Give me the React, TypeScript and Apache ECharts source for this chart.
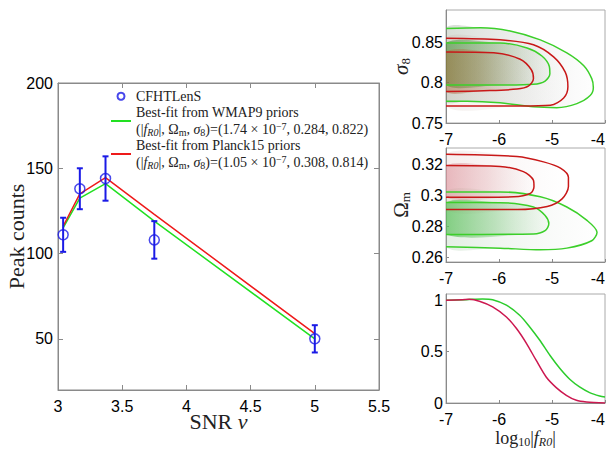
import React, { useEffect, useRef } from 'react';
import * as echarts from 'echarts';

// ---------- main panel data ----------
const snr = [3.04, 3.17, 3.37, 3.75, 5.0];
const peakCounts = [111, 138, 144, 108, 50];
const errLow = [101, 126, 131, 97, 42];
const errHigh = [121, 150, 157, 119, 58];
const wmap9Fit = [115, 132.5, 141, 119, 50];
const planck15Fit = [116, 135, 144.5, 123, 53];

const snrTicks = [3, 3.5, 4, 4.5, 5, 5.5];
const peakTicks = [50, 100, 150, 200];
const logfTicks = [-7, -6, -5, -4];
const s8Ticks = [0.75, 0.8, 0.85];
const omTicks = [0.26, 0.28, 0.3, 0.32];
const probTicks = [0, 0.5, 1];

// ---------- sigma8 vs log10|fR0| contours ----------
const s8GreenOuter = [[-7, 0.867], [-6.35, 0.868], [-5.79, 0.864], [-5.22, 0.853], [-4.72, 0.837], [-4.4, 0.821], [-4.25, 0.805], [-4.22, 0.794], [-4.28, 0.784], [-4.53, 0.774], [-4.91, 0.769], [-5.35, 0.77], [-5.98, 0.775], [-6.6, 0.777], [-7, 0.777]];
const s8GreenInner = [[-7, 0.849], [-5.98, 0.849], [-5.47, 0.843], [-5.19, 0.833], [-5.05, 0.82], [-5.04, 0.811], [-5.13, 0.802], [-5.35, 0.798], [-5.98, 0.797], [-7, 0.797]];
const s8RedOuter = [[-7, 0.855], [-5.98, 0.853], [-5.35, 0.847], [-4.97, 0.832], [-4.75, 0.813], [-4.7, 0.795], [-4.78, 0.781], [-5.03, 0.772], [-5.6, 0.771], [-7, 0.771]];
const s8RedInner = [[-7, 0.838], [-6.1, 0.837], [-5.6, 0.829], [-5.39, 0.816], [-5.35, 0.805], [-5.44, 0.796], [-5.66, 0.792], [-6.29, 0.79], [-7, 0.789]];

// ---------- Omega_m vs log10|fR0| contours ----------
const omRedOuter = [[-7, 0.327], [-5.66, 0.3255], [-5.16, 0.322], [-4.84, 0.318], [-4.69, 0.312], [-4.69, 0.306], [-4.81, 0.298], [-5.09, 0.293], [-5.66, 0.291], [-7, 0.291]];
const omRedInner = [[-7, 0.3196], [-5.98, 0.319], [-5.54, 0.3157], [-5.35, 0.31], [-5.34, 0.3058], [-5.41, 0.3015], [-5.72, 0.2993], [-7, 0.299]];
const omGreenOuter = [[-7, 0.3025], [-5.98, 0.3025], [-5.22, 0.2993], [-4.72, 0.2927], [-4.34, 0.284], [-4.15, 0.2763], [-4.25, 0.2708], [-4.72, 0.266], [-5.22, 0.2649], [-5.98, 0.266], [-7, 0.2669]];
const omGreenInner = [[-7, 0.2956], [-5.98, 0.2955], [-5.35, 0.2927], [-5.13, 0.2872], [-5.06, 0.2818], [-5.13, 0.2774], [-5.35, 0.2752], [-7, 0.2748]];

// ---------- marginal probability of log10|fR0| ----------
const probGreen = [[-7, 1.0], [-6.62, 1.005], [-6.31, 1.012], [-6.12, 1.005], [-5.86, 0.951], [-5.61, 0.854], [-5.42, 0.74], [-5.23, 0.61], [-5.04, 0.464], [-4.85, 0.335], [-4.66, 0.228], [-4.48, 0.156], [-4.29, 0.101], [-4.1, 0.068], [-4.0, 0.058]];
const probRed = [[-7, 1.0], [-6.69, 1.005], [-6.56, 1.008], [-6.37, 0.99], [-6.12, 0.935], [-5.86, 0.837], [-5.67, 0.724], [-5.48, 0.578], [-5.3, 0.416], [-5.11, 0.253], [-4.92, 0.15], [-4.73, 0.075], [-4.54, 0.026], [-4.35, 0.01], [-4.0, 0.0]];

const GRAY = '#8a8a8a';
const SANS = 'Liberation Sans';
const SERIF = 'Liberation Serif';

const mathRich = {
  it: { fontFamily: SERIF, fontSize: 14, fontStyle: 'italic', lineHeight: 16.5, color: '#222' },
  sub: { fontFamily: SERIF, fontSize: 10, fontStyle: 'italic', lineHeight: 10, verticalAlign: 'bottom', color: '#222' },
  subr: { fontFamily: SERIF, fontSize: 10, lineHeight: 10, verticalAlign: 'bottom', color: '#222' },
  sup: { fontFamily: SERIF, fontSize: 10, lineHeight: 10, verticalAlign: 'top', color: '#222' },
};

const legendText: Record<string, string> = {
  CFHTLenS: 'CFHTLenS',
  WMAP9: 'Best-fit from WMAP9 priors\n(|{it|f}{sub|R0}|, Ω{subr|m}, {it|σ}{subr|8})=(1.74 × 10{sup|−7}, 0.284, 0.822)',
  Planck15: 'Best-fit from Planck15 priors\n(|{it|f}{sub|R0}|, Ω{subr|m}, {it|σ}{subr|8})=(1.05 × 10{sup|−7}, 0.308, 0.814)',
};

const grad = (stops: [number, string][]) =>
  new echarts.graphic.LinearGradient(0, 0, 1, 0, stops.map(([offset, color]) => ({ offset, color })));

// grid g (1..3) uses xAxis/yAxis index g + 1
function fillSeries(pts: number[][], g: number, stops: [number, string][]) {
  const fill = grad(stops);
  return {
    type: 'custom',
    xAxisIndex: g + 1,
    yAxisIndex: g + 1,
    silent: true,
    clip: true,
    z: 1,
    data: pts,
    encode: { x: 0, y: 1 },
    renderItem: (params: any, api: any) => {
      if (params.dataIndex !== 0) return null;
      return {
        type: 'polygon',
        shape: { points: pts.map((p) => api.coord(p)), smooth: 0.3 },
        style: { fill, stroke: 'none' },
      };
    },
  };
}

function contourSeries(pts: number[][], g: number, color: string) {
  return {
    type: 'line',
    xAxisIndex: g + 1,
    yAxisIndex: g + 1,
    data: pts,
    smooth: 0.3,
    symbol: 'none',
    silent: true,
    z: 3,
    lineStyle: { color, width: 1.5 },
    itemStyle: { color },
  };
}

const tickInside = (len: number, custom?: number[]) => ({
  show: true,
  inside: true,
  length: len,
  lineStyle: { color: GRAY },
  ...(custom ? { customValues: custom } : {}),
});

const smallX = (grid: number, withName = false) => ({
  type: 'value',
  gridIndex: grid,
  min: -7,
  max: -4,
  axisLine: { lineStyle: { color: GRAY } },
  axisTick: tickInside(3, logfTicks),
  axisLabel: { color: '#000', fontSize: 16, fontFamily: SANS, margin: 8, customValues: logfTicks, alignMaxLabel: 'right' },
  splitLine: { show: false },
  ...(withName
    ? {
        name: 'log{s|10}|{i|f}{t|R0}|',
        nameLocation: 'middle',
        nameGap: 25,
        nameMoveOverlap: false,
        nameTextStyle: {
          fontFamily: SERIF,
          fontSize: 18,
          color: '#222',
          lineHeight: 20,
          rich: {
            s: { fontFamily: SERIF, fontSize: 12, lineHeight: 12, verticalAlign: 'bottom', color: '#222' },
            i: { fontFamily: SERIF, fontSize: 18, fontStyle: 'italic', lineHeight: 20, color: '#222' },
            t: { fontFamily: SERIF, fontSize: 12, fontStyle: 'italic', lineHeight: 12, verticalAlign: 'bottom', color: '#222' },
          },
        },
      }
    : {}),
});

const smallY = (grid: number, min: number, max: number, ticks: number[], name?: string) => ({
  type: 'value',
  gridIndex: grid,
  min,
  max,
  axisLine: { show: true, lineStyle: { color: GRAY } },
  axisTick: tickInside(3, ticks),
  axisLabel: { color: '#000', fontSize: 16, fontFamily: SANS, margin: 3, customValues: ticks },
  splitLine: { show: false },
  ...(name
    ? {
        name,
        nameLocation: 'middle',
        nameGap: 34,
        nameMoveOverlap: false,
        nameTextStyle: {
          fontFamily: SERIF,
          fontSize: 21,
          color: '#222',
          lineHeight: 22,
          rich: {
            i: { fontFamily: SERIF, fontSize: 21, fontStyle: 'italic', lineHeight: 22, color: '#222' },
            s: { fontFamily: SERIF, fontSize: 13, lineHeight: 12, verticalAlign: 'bottom', color: '#222' },
          },
        },
      }
    : {}),
});

const gridBase = { show: true, borderWidth: 1, outerBoundsMode: 'none', containLabel: false };

const option: any = {
  animation: false,
  backgroundColor: '#fff',
  legend: {
    orient: 'vertical',
    left: 110,
    top: 88,
    padding: 0,
    itemGap: 0,
    itemWidth: 20,
    itemHeight: 7,
    data: [
      { name: 'CFHTLenS' },
      { name: 'WMAP9', itemStyle: { opacity: 0 } },
      { name: 'Planck15', itemStyle: { opacity: 0 } },
    ],
    formatter: (name: string) => legendText[name],
    textStyle: { fontFamily: SERIF, fontSize: 14, lineHeight: 16.5, color: '#222', rich: mathRich },
  },
  grid: [
    { ...gridBase, left: 58, top: 83, width: 321, height: 307, borderColor: GRAY },
    { ...gridBase, left: 446, top: 10, width: 159, height: 113, borderColor: '#aaa' },
    { ...gridBase, left: 446, top: 148, width: 159, height: 114, borderColor: '#aaa' },
    { ...gridBase, left: 446, top: 294, width: 159, height: 109, borderColor: '#aaa' },
  ],
  xAxis: [
    {
      type: 'value',
      gridIndex: 0,
      min: 3,
      max: 5.5,
      axisLine: { lineStyle: { color: GRAY } },
      axisTick: tickInside(5, snrTicks),
      axisLabel: { color: '#000', fontSize: 16, fontFamily: SANS, margin: 8, customValues: snrTicks },
      splitLine: { show: false },
      name: '{n|SNR }{i|ν}',
      nameLocation: 'middle',
      nameGap: 23,
      nameMoveOverlap: false,
      nameTextStyle: {
        lineHeight: 16,
        rich: {
          n: { fontFamily: SERIF, fontSize: 22, color: '#222', lineHeight: 16 },
          i: { fontFamily: SERIF, fontSize: 22, fontStyle: 'italic', color: '#222', lineHeight: 16 },
        },
      },
    },
    {
      type: 'value',
      gridIndex: 0,
      position: 'top',
      min: 3,
      max: 5.5,
      axisLine: { lineStyle: { color: GRAY } },
      axisTick: tickInside(5, snrTicks),
      axisLabel: { show: false },
      splitLine: { show: false },
    },
    smallX(1),
    smallX(2),
    smallX(3, true),
  ],
  yAxis: [
    {
      type: 'value',
      gridIndex: 0,
      min: 20,
      max: 200,
      axisLine: { show: true, lineStyle: { color: GRAY } },
      axisTick: tickInside(5, peakTicks),
      axisLabel: { color: '#000', fontSize: 16, fontFamily: SANS, margin: 5, customValues: peakTicks },
      splitLine: { show: false },
      name: 'Peak counts',
      nameLocation: 'middle',
      nameGap: 30,
      nameMoveOverlap: false,
      nameTextStyle: { fontFamily: SERIF, fontSize: 22, color: '#222', lineHeight: 24 },
    },
    {
      type: 'value',
      gridIndex: 0,
      position: 'right',
      min: 20,
      max: 200,
      axisLine: { show: true, lineStyle: { color: GRAY } },
      axisTick: tickInside(5, peakTicks),
      axisLabel: { show: false },
      splitLine: { show: false },
    },
    smallY(1, 0.75, 0.89, s8Ticks, '{i|σ}{s|8}'),
    smallY(2, 0.257, 0.331, omTicks, 'Ω{s|m}'),
    smallY(3, 0, 1.06, probTicks),
  ],
  series: [
    // ---- main panel ----
    {
      type: 'custom',
      name: 'errorbars',
      xAxisIndex: 0,
      yAxisIndex: 0,
      z: 4,
      data: snr.map((x, i) => [x, errLow[i], errHigh[i]]),
      encode: { x: 0, y: [1, 2] },
      renderItem: (params: any, api: any) => {
        const x = api.value(0);
        const lo = api.coord([x, api.value(1)]);
        const hi = api.coord([x, api.value(2)]);
        const w = 3;
        const st = { stroke: '#1a1ae6', lineWidth: 2 };
        return {
          type: 'group',
          children: [
            { type: 'line', shape: { x1: lo[0], y1: lo[1], x2: hi[0], y2: hi[1] }, style: st },
            { type: 'line', shape: { x1: lo[0] - w, y1: lo[1], x2: lo[0] + w, y2: lo[1] }, style: st },
            { type: 'line', shape: { x1: hi[0] - w, y1: hi[1], x2: hi[0] + w, y2: hi[1] }, style: st },
          ],
        };
      },
    },
    {
      type: 'line',
      name: 'WMAP9',
      xAxisIndex: 0,
      yAxisIndex: 0,
      data: snr.map((x, i) => [x, wmap9Fit[i]]),
      symbol: 'none',
      z: 2,
      lineStyle: { color: '#22e022', width: 1.5 },
      itemStyle: { color: '#22e022' },
    },
    {
      type: 'line',
      name: 'Planck15',
      xAxisIndex: 0,
      yAxisIndex: 0,
      data: snr.map((x, i) => [x, planck15Fit[i]]),
      symbol: 'none',
      z: 3,
      lineStyle: { color: '#ee1a1a', width: 1.5 },
      itemStyle: { color: '#ee1a1a' },
    },
    {
      type: 'scatter',
      name: 'CFHTLenS',
      xAxisIndex: 0,
      yAxisIndex: 0,
      data: snr.map((x, i) => [x, peakCounts[i]]),
      symbol: 'circle',
      symbolSize: 10,
      z: 5,
      itemStyle: { color: 'rgba(0,0,0,0)', borderColor: '#1a1ae6', borderWidth: 1.5 },
    },
    // ---- sigma8 panel ----
    fillSeries(s8GreenOuter, 1, [[0, 'rgba(120,140,115,0.30)'], [0.6, 'rgba(160,165,160,0.15)'], [1, 'rgba(190,190,190,0.02)']]),
    fillSeries(s8RedOuter, 1, [[0, 'rgba(160,120,100,0.12)'], [1, 'rgba(180,160,150,0.0)']]),
    fillSeries(s8GreenInner, 1, [[0, 'rgba(60,140,45,0.6)'], [0.45, 'rgba(90,150,75,0.35)'], [1, 'rgba(140,170,130,0.05)']]),
    fillSeries(s8RedInner, 1, [[0, 'rgba(175,105,60,0.5)'], [0.4, 'rgba(175,120,80,0.35)'], [1, 'rgba(180,150,130,0.0)']]),
    contourSeries(s8GreenOuter, 1, '#3ccf2a'),
    contourSeries(s8GreenInner, 1, '#3ccf2a'),
    contourSeries(s8RedOuter, 1, '#c81818'),
    contourSeries(s8RedInner, 1, '#c81818'),
    // ---- Omega_m panel ----
    fillSeries(omGreenOuter, 2, [[0, 'rgba(160,200,160,0.3)'], [1, 'rgba(210,215,210,0.02)']]),
    fillSeries(omRedOuter, 2, [[0, 'rgba(225,190,190,0.3)'], [1, 'rgba(225,210,210,0.0)']]),
    fillSeries(omGreenInner, 2, [[0, 'rgba(80,190,80,0.7)'], [0.5, 'rgba(110,195,110,0.4)'], [1, 'rgba(160,210,160,0.05)']]),
    fillSeries(omRedInner, 2, [[0, 'rgba(220,140,150,0.6)'], [0.5, 'rgba(225,165,170,0.35)'], [1, 'rgba(230,200,200,0.0)']]),
    contourSeries(omGreenOuter, 2, '#3ccf2a'),
    contourSeries(omGreenInner, 2, '#3ccf2a'),
    contourSeries(omRedOuter, 2, '#c81818'),
    contourSeries(omRedInner, 2, '#c81818'),
    // ---- marginal panel ----
    contourSeries(probGreen, 3, '#2ccc2c'),
    contourSeries(probRed, 3, '#cc1850'),
  ],
};

export default function App() {
  const ref = useRef<HTMLDivElement>(null);
  useEffect(() => {
    document.body.style.margin = '0';
    const chart = echarts.init(ref.current as HTMLDivElement, undefined, { renderer: 'svg' });
    chart.setOption(option);
    return () => chart.dispose();
  }, []);
  return <div ref={ref} style={{ width: 608, height: 449 }} />;
}
